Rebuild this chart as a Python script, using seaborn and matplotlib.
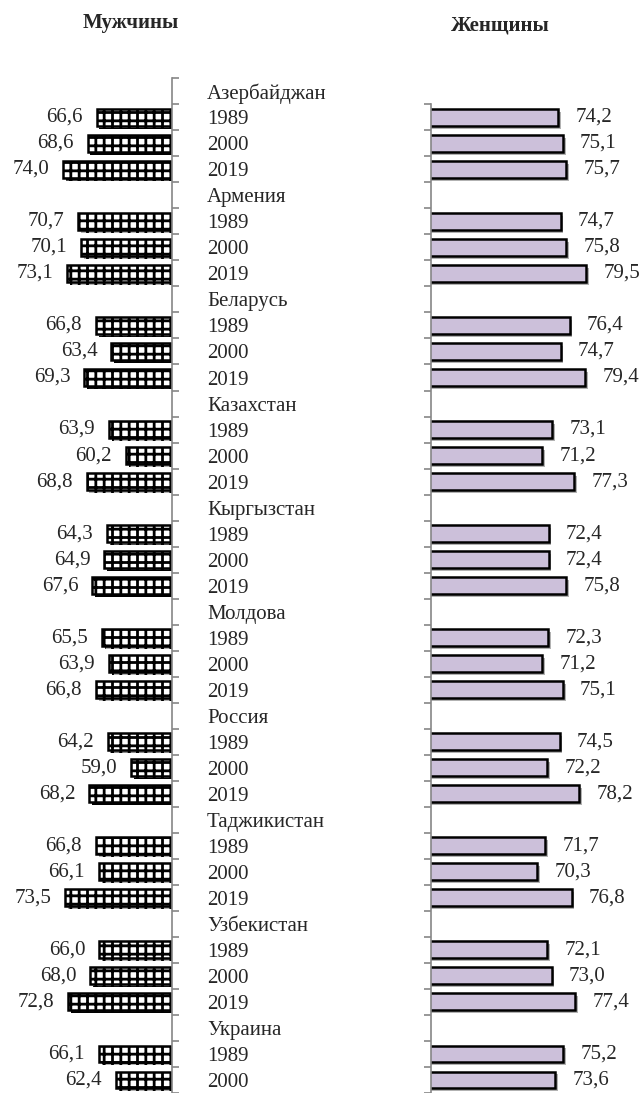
import matplotlib
matplotlib.use('Agg')
import matplotlib.pyplot as plt
import matplotlib.patheffects as pe
import pandas as pd
import seaborn as sns

countries = ['Азербайджан', 'Армения', 'Беларусь', 'Казахстан', 'Кыргызстан',
             'Молдова', 'Россия', 'Таджикистан', 'Узбекистан', 'Украина']
years = ['1989', '2000', '2019']

# life expectancy, 1989 / 2000 / 2019 (Ukraine's 2019 row is cut off in the picture)
men = [[66.6, 68.6, 74.0], [70.7, 70.1, 73.1], [66.8, 63.4, 69.3],
       [63.9, 60.2, 68.8], [64.3, 64.9, 67.6], [65.5, 63.9, 66.8],
       [64.2, 59.0, 68.2], [66.8, 66.1, 73.5], [66.0, 68.0, 72.8],
       [66.1, 62.4]]
women = [[74.2, 75.1, 75.7], [74.7, 75.8, 79.5], [76.4, 74.7, 79.4],
         [73.1, 71.2, 77.3], [72.4, 72.4, 75.8], [72.3, 71.2, 75.1],
         [74.5, 72.2, 78.2], [71.7, 70.3, 76.8], [72.1, 73.0, 77.4],
         [75.2, 73.6]]

# one row slot per country name, then one per year
rows = []
tick_pos, tick_lab = [], []
pos = 0
for country, m_vals, w_vals in zip(countries, men, women):
    tick_pos.append(pos)
    tick_lab.append(country)
    pos += 1
    for year, m, w in zip(years, m_vals, w_vals):
        tick_pos.append(pos)
        tick_lab.append(year)
        rows.append({'pos': pos, 'men': m, 'women': w})
        pos += 1
df = pd.DataFrame(rows)
n_slots = pos

sns.set_style('white')
plt.rcParams['font.family'] = ['Liberation Serif', 'DejaVu Serif']
plt.rcParams['hatch.linewidth'] = 2.0

axis_grey = '#868686'
fmt = lambda v: f'{v:.1f}'.replace('.', ',')
shadow = [pe.SimplePatchShadow(offset=(2, -2), shadow_rgbFace='#555555', alpha=0.45),
          pe.Normal()]

fig = plt.figure(figsize=(6.41, 10.93), dpi=100)
top = 1 - 78.3 / 1093
ax_m = fig.add_axes([0, 0, 172.3 / 641, top])
ax_w = fig.add_axes([430.7 / 641, 0, 1 - 430.7 / 641, top])

# Men
sns.barplot(data=df, x='men', y='pos', orient='h', native_scale=True, width=0.65,
            color='white', saturation=1, edgecolor='black', linewidth=1.8,
            hatch='++', errorbar=None, ax=ax_m)
for p in ax_m.patches:
    p.set_path_effects(shadow)
for v, y in zip(df['men'], df['pos']):
    ax_m.annotate(fmt(v), xy=(v, y), xytext=(-10, 0), textcoords='offset points',
                  ha='right', va='center', fontsize=15)
ax_m.set_xlim(50 + 172.3 / 4.553, 50)
ax_m.set_ylim(n_slots - 0.5, -0.5)
ax_m.set_xticks([])
ax_m.set_xlabel('')
ax_m.set_ylabel('')
for s in ['top', 'bottom', 'left']:
    ax_m.spines[s].set_visible(False)
ax_m.spines['right'].set_visible(True)
ax_m.spines['right'].set_color(axis_grey)
ax_m.spines['right'].set_linewidth(1.2)
ax_m.yaxis.tick_right()
ax_m.set_yticks(tick_pos)
ax_m.set_yticklabels(tick_lab, fontsize=15)
ax_m.set_yticks([i - 0.5 for i in range(n_slots + 1)], minor=True)
ax_m.tick_params(axis='y', which='major', length=0, pad=25,
                 right=True, left=False, labelright=True, labelleft=False)
ax_m.tick_params(axis='y', which='minor', length=5, width=1.2, color=axis_grey,
                 direction='out', right=True, left=False)

# Women
sns.barplot(data=df, x='women', y='pos', orient='h', native_scale=True, width=0.65,
            color='#CCC0DA', saturation=1, edgecolor='black', linewidth=1.8,
            errorbar=None, ax=ax_w)
for p in ax_w.patches:
    p.set_path_effects(shadow)
ax_w.bar_label(ax_w.containers[0], fmt=fmt, padding=12.5, fontsize=15)
ax_w.set_xlim(50, 50 + (641 - 430.7) / 5.26)
ax_w.set_ylim(n_slots - 0.5, -0.5)
ax_w.set_xticks([])
ax_w.set_xlabel('')
ax_w.set_ylabel('')
for s in ['top', 'bottom', 'right']:
    ax_w.spines[s].set_visible(False)
ax_w.spines['left'].set_color(axis_grey)
ax_w.spines['left'].set_linewidth(1.2)
ax_w.spines['left'].set_bounds(0.5, n_slots - 0.5)
ax_w.set_yticks([])
ax_w.set_yticks([i - 0.5 for i in range(1, n_slots + 1)], minor=True)
ax_w.tick_params(axis='y', which='minor', length=5, width=1.2, color=axis_grey,
                 direction='out', left=True, right=False)

fig.text(131 / 641, 1 - 28 / 1093, 'Мужчины', ha='center', va='baseline',
         fontsize=15, fontweight='bold')
fig.text(500 / 641, 1 - 30 / 1093, 'Женщины', ha='center', va='baseline',
         fontsize=15, fontweight='bold')

fig.savefig('out.png', dpi=100)
